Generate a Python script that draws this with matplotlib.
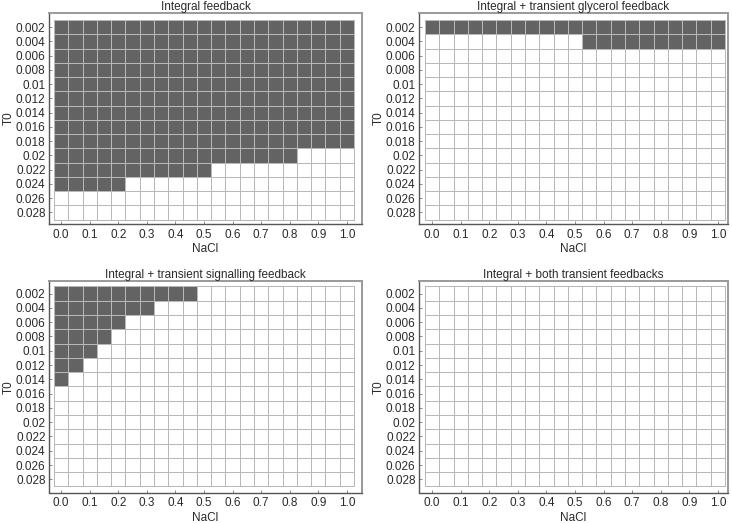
import numpy as np
import matplotlib
matplotlib.use("Agg")
import matplotlib.pyplot as plt
from matplotlib.colors import ListedColormap

# NaCl levels (columns) and T0 levels (rows)
nacl = [0.0, 0.05, 0.1, 0.15, 0.2, 0.25, 0.3, 0.35, 0.4, 0.45, 0.5,
        0.55, 0.6, 0.65, 0.7, 0.75, 0.8, 0.85, 0.9, 0.95, 1.0]
t0 = [0.002, 0.004, 0.006, 0.008, 0.01, 0.012, 0.014,
      0.016, 0.018, 0.02, 0.022, 0.024, 0.026, 0.028]

# number of dark (unstable) rows counted from the top, one value per NaCl column
integral = [12, 12, 12, 12, 12, 11, 11, 11, 11, 11, 11,
            10, 10, 10, 10, 10, 10, 9, 9, 9, 9]
glycerol = [1, 1, 1, 1, 1, 1, 1, 1, 1, 1, 1,
            2, 2, 2, 2, 2, 2, 2, 2, 2, 2]
signalling = [7, 6, 5, 4, 3, 2, 2, 1, 1, 1, 0,
              0, 0, 0, 0, 0, 0, 0, 0, 0, 0]
both = [0] * 21

titles = ["Integral feedback", "Integral + transient glycerol feedback",
          "Integral + transient signalling feedback", "Integral + both transient feedbacks"]
panels = [integral, glycerol, signalling, both]

W, H = 732, 523
# frame box and grid box in pixels (left, top, right, bottom)
frames = [(49, 13, 362, 224), (419, 13, 728, 224), (49, 281, 362, 492.5), (419, 281, 728, 492.5)]
grids = [(54, 20, 354, 219.5), (425, 20, 725, 219.5), (54, 286.5, 354, 486.5), (425, 286.5, 725, 486.5)]

plt.rcParams['font.family'] = ['Liberation Sans', 'DejaVu Sans']
fig = plt.figure(figsize=(W / 100, H / 100), dpi=100)
cmap = ListedColormap(["white", "#636363"])
fs = 8.5
tc = "#2a2a2a"

xe = np.concatenate([[nacl[0] - 0.025], np.array(nacl) + 0.025])
ye = np.concatenate([[t0[0] - 0.001], np.array(t0) + 0.001])

for k in range(4):
    fx0, fy0, fx1, fy1 = frames[k]
    gx0, gy0, gx1, gy1 = grids[k]
    ax = fig.add_axes([fx0 / W, 1 - fy1 / H, (fx1 - fx0) / W, (fy1 - fy0) / H])

    counts = np.array(panels[k])
    z = (np.arange(len(t0))[:, None] < counts[None, :]).astype(float)
    ax.pcolormesh(xe, ye, z, cmap=cmap, vmin=0, vmax=1,
                  edgecolors="#b8b8b8", linewidth=0.45)

    sx = (xe[-1] - xe[0]) / (gx1 - gx0)
    sy = (ye[-1] - ye[0]) / (gy1 - gy0)
    ax.set_xlim(xe[0] - (gx0 - fx0) * sx, xe[-1] + (fx1 - gx1) * sx)
    ax.set_ylim(ye[-1] + (fy1 - gy1) * sy, ye[0] - (gy0 - fy0) * sy)

    ax.set_xticks(nacl[::2])
    ax.set_xticklabels(["%.1f" % v for v in nacl[::2]])
    ax.set_yticks(t0)
    ax.set_yticklabels(["%g" % v for v in t0])
    ax.tick_params(direction="in", length=2.5, width=0.6, color="#777777",
                   labelsize=fs, labelcolor=tc, top=False, right=False)
    ax.tick_params(axis="x", pad=3.6)
    ax.tick_params(axis="y", pad=2.5)

    for side in ["left", "bottom"]:
        ax.spines[side].set_color("#555555")
        ax.spines[side].set_linewidth(1.0)
    for side in ["top", "right"]:
        ax.spines[side].set_color("#9a9a9a")
        ax.spines[side].set_linewidth(1.4)

    ax.set_title(titles[k], fontsize=fs, color=tc, pad=2.5)
    ax.set_xlabel("NaCl", fontsize=fs, color=tc, labelpad=1.8)
    ax.set_ylabel("T0", fontsize=fs, color=tc, labelpad=0.5)

fig.savefig("out.png", dpi=100)
